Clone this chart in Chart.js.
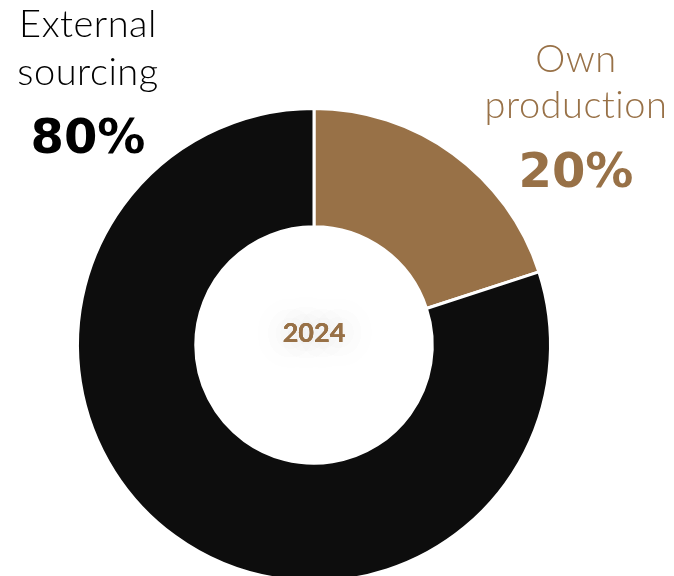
<!DOCTYPE html>
<html>
<head>
<meta charset="utf-8">
<script src="https://cdn.jsdelivr.net/npm/chart.js@4/dist/chart.umd.min.js"></script>
<style>
  html, body { margin: 0; padding: 0; background: #fff; overflow: hidden; }
  #wrap { position: relative; width: 674px; height: 600px; }
</style>
</head>
<body>
<div id="wrap"><canvas id="MyChart"></canvas></div>
<script>
// slices go clockwise from 12 o'clock
let labels = ['Own production', 'External sourcing'];
let shares = [20, 80];
let year = '2024';

const brown = '#987147';
const black = '#0d0d0d';

// text next to the ring, drawn on the canvas
const sideLabels = {
  id: 'sideLabels',
  afterDraw(chart) {
    const ctx = chart.ctx;
    ctx.save();
    ctx.textAlign = 'center';
    ctx.textBaseline = 'alphabetic';

    ctx.fillStyle = '#000';
    ctx.letterSpacing = '0.5px';
    ctx.font = '300 38px Lato';
    ctx.fillText('External', 88, 37);
    ctx.fillText('sourcing', 88, 85);
    ctx.letterSpacing = '0px';
    ctx.font = 'bold 48px "DejaVu Sans"';
    ctx.fillText(shares[1] + '%', 88, 153);

    ctx.fillStyle = brown;
    ctx.letterSpacing = '0.5px';
    ctx.font = '300 38px Lato';
    ctx.fillText('Own', 576, 72);
    ctx.fillText('production', 576, 118);
    ctx.letterSpacing = '0px';
    ctx.font = 'bold 48px "DejaVu Sans"';
    ctx.fillText(shares[0] + '%', 576, 187);

    // year in the hole, with a soft grey haze
    const m = chart.getDatasetMeta(0).data[0];
    ctx.font = 'bold 27px Lato';
    ctx.textBaseline = 'middle';
    ctx.shadowColor = 'rgba(0,0,0,0.25)';
    ctx.shadowBlur = 35;
    ctx.fillText(year, m.x, m.y - 12);
    ctx.fillText(year, m.x, m.y - 12);
    ctx.shadowBlur = 0;
    ctx.fillText(year, m.x, m.y - 12);
    ctx.restore();
  }
};

var chartObject = {};
var ctx = document.getElementById('MyChart').getContext('2d');
chartObject.chart = new Chart(ctx, {
  type: 'doughnut',
  data: {
    labels: labels,
    datasets: [{
      data: shares,
      backgroundColor: [brown, black],
      borderColor: '#fff',
      borderWidth: 3,
    }]
  },
  options: {
    responsive: true,
    maintainAspectRatio: false,
    animation: false,
    cutout: '50%',
    layout: {
      padding: { left: 76, right: 122, top: 107, bottom: 17 }
    },
    plugins: {
      legend: { display: false },
      tooltip: { enabled: false }
    }
  },
  plugins: [sideLabels]
});
</script>
</body>
</html>
